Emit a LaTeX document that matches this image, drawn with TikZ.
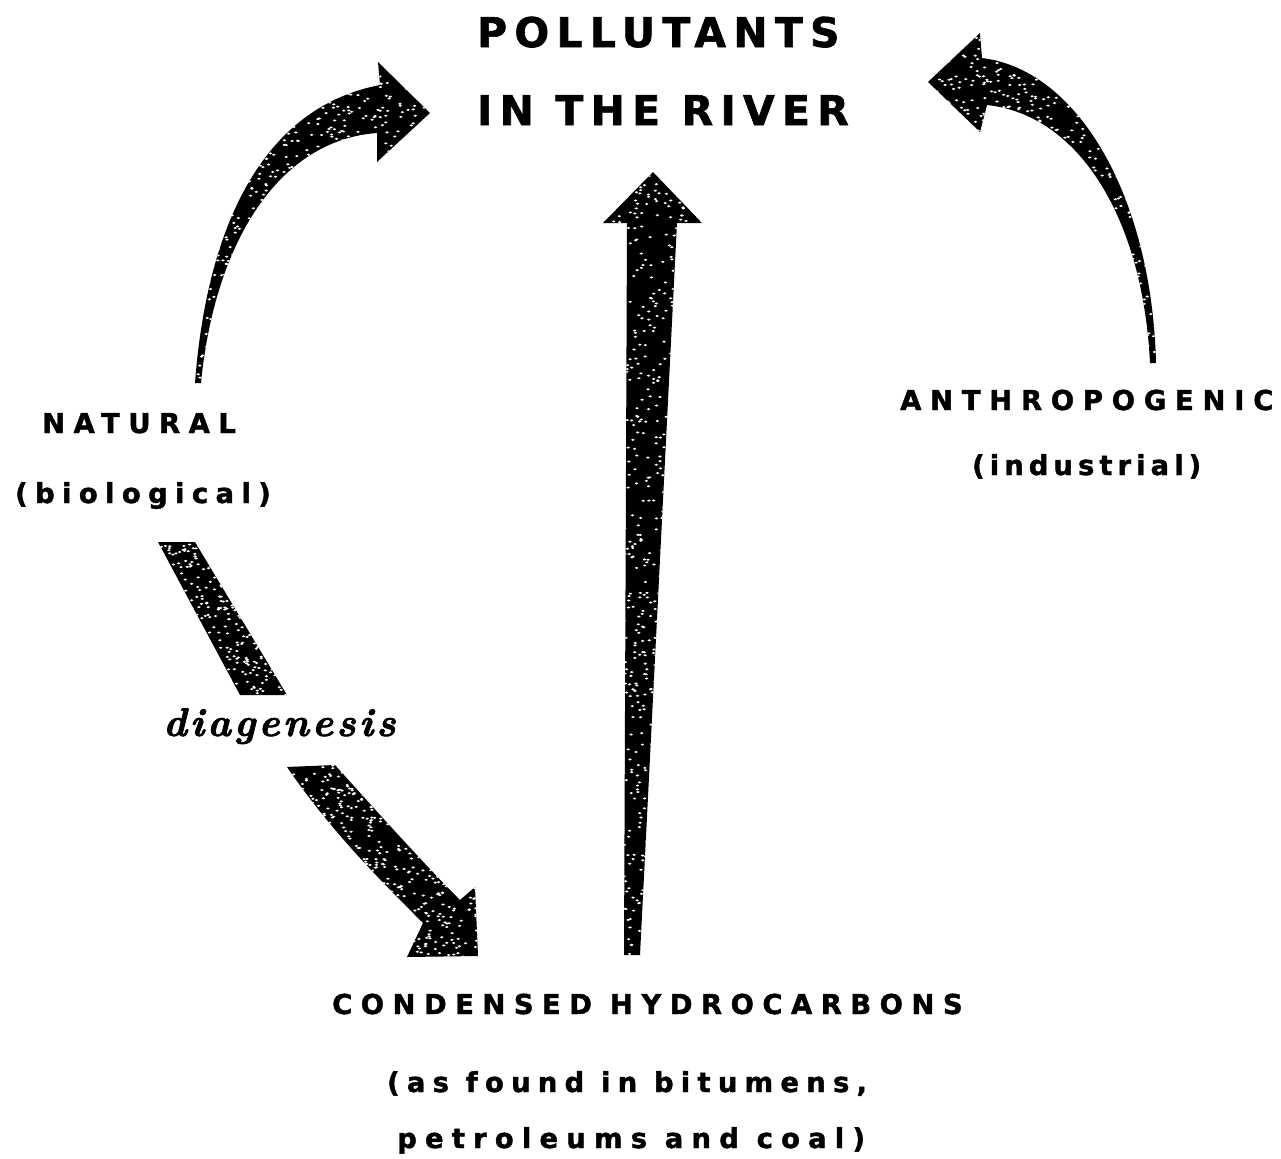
\documentclass[tikz,border=0pt]{standalone}
\usepackage{fontspec}
\setmainfont{DejaVu Sans}[FakeBold=1.5]
\newfontfamily\diagfont[LetterSpace=8]{Latin Modern Roman}
\newcommand\mkspeck[5]{%
  \foreach \k in {1,...,#5}{%
    \pgfmathsetmacro\sx{#1+(#2-#1)*rnd}%
    \pgfmathsetmacro\sy{#3+(#4-#3)*rnd}%
    \fill[white] (\sx,\sy) ellipse (1.8 and 1.1);}}
\begin{document}
\begin{tikzpicture}[x=1bp,y=-1bp,
  bigtxt/.style={anchor=base west,inner sep=0pt,font=\fontsize{41}{41}\selectfont\bfseries\addfontfeatures{LetterSpace=18}},
  smalltxt/.style={anchor=base west,inner sep=0pt,font=\fontsize{27.5}{28}\selectfont\bfseries\addfontfeatures{LetterSpace=#1}},
  arrowfill/.style={fill=black}]
\useasboundingbox (0,0) rectangle (1281,1159);
\pgfmathsetseed{7}

% titles
\node[bigtxt] (t1) at (477,47) {POLLUTANTS};
\node[bigtxt] (t2) at (477,125) {IN THE RIVER};

\node[smalltxt=31] (nat) at (42,433) {NATURAL};
\node[smalltxt=27] (bio) at (15,503) {(biological)};
\node[smalltxt=32] (anth) at (900,410) {ANTHROPOGENIC};
\node[smalltxt=18.5] (ind) at (972,475) {(industrial)};
\node[smalltxt=31] (cond) at (332,1014) {CONDENSED HYDROCARBONS};
\node[smalltxt=26.5] (asf) at (387,1092) {(as found in bitumens,};
\node[smalltxt=30] (pet) at (397,1148) {petroleums and coal)};

\node[anchor=base west,inner sep=0pt,font=\diagfont\fontsize{40}{40}\selectfont\bfseries\itshape\addfontfeatures{FakeBold=2}] (diag) at (163,736) {diagenesis};

% left curved arrow (natural -> pollutants)
\fill[arrowfill,save path=\arrL] (195,383) .. controls (205,250) and (250,110) .. (380,85)
  -- (378,62) -- (430,113) -- (377,162) -- (377,133)
  .. controls (280,140) and (215,240) .. (201,383) -- cycle;
\begin{scope}
  \clip[use path=\arrL];
  \mkspeck{195}{430}{62}{383}{1200}
\end{scope}

% right curved arrow (anthropogenic -> pollutants)
\fill[arrowfill,save path=\arrR] (1150,363) .. controls (1143,220) and (1080,115) .. (987,105)
  -- (980,132) -- (928,82) -- (980,33) -- (982,58)
  .. controls (1080,70) and (1152,200) .. (1156,363) -- cycle;
\begin{scope}
  \clip[use path=\arrR];
  \mkspeck{928}{1156}{33}{363}{1200}
\end{scope}

% vertical arrow (condensed -> pollutants)
\fill[arrowfill,save path=\arrV] (624,955) -- (627,223) -- (603,223) -- (653,172) -- (702,223)
  -- (677,223) -- (640,955) -- cycle;
\begin{scope}
  \clip[use path=\arrV];
  \mkspeck{603}{702}{172}{955}{900}
\end{scope}

% diagenesis arrow, upper piece
\fill[arrowfill,save path=\arrDa] (158,542) -- (195,542) -- (287,695) -- (240,695) -- cycle;
\begin{scope}
  \clip[use path=\arrDa];
  \mkspeck{158}{287}{542}{695}{450}
\end{scope}

% diagenesis arrow, lower piece with head
\fill[arrowfill,save path=\arrDb] (287,767) -- (335,765)
  .. controls (380,815) and (425,865) .. (460,900)
  -- (475,887) -- (478,956) -- (407,957) -- (423,923)
  .. controls (380,880) and (330,830) .. (287,767) -- cycle;
\begin{scope}
  \clip[use path=\arrDb];
  \mkspeck{287}{478}{765}{957}{700}
\end{scope}
\end{tikzpicture}
\end{document}
